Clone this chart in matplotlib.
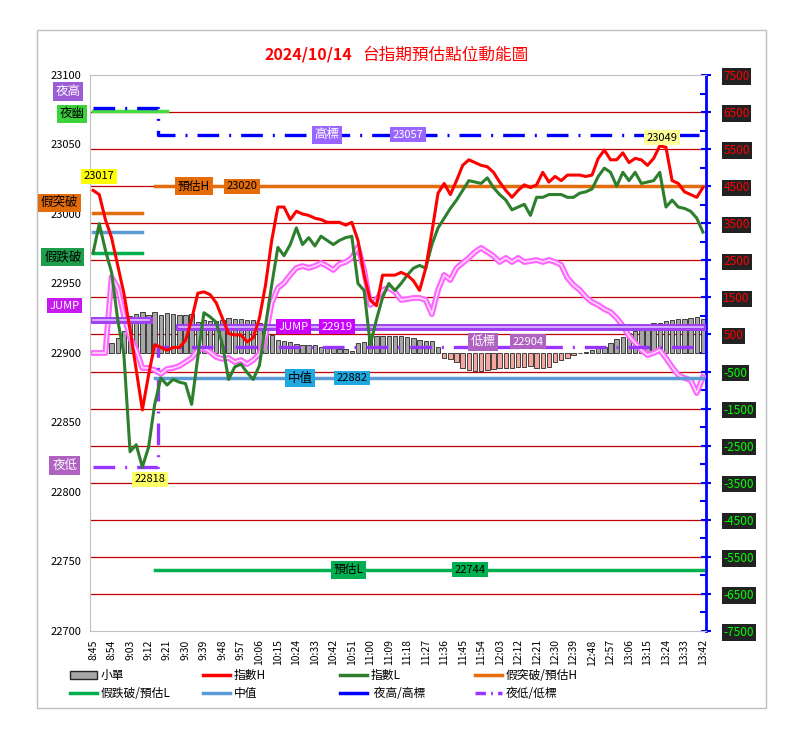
import matplotlib.pyplot as plt
import numpy as np
import pandas as pd
from matplotlib.lines import Line2D
from matplotlib.patches import Patch, Rectangle

plt.rcParams['font.family'] = ['Noto Sans CJK TC', 'DejaVu Sans']

# categories: one point every 3 minutes, 8:45 .. 13:42
times = [t.strftime('%-H:%M') for t in pd.date_range('2024-10-14 08:45', '2024-10-14 13:42', freq='3min')]

# 指數H / 指數L (left axis)
idx_h = [23017, 23014, 22996, 22983, 22963, 22943, 22917, 22888, 22859, 22884,
         22906, 22904, 22902, 22904, 22904, 22909, 22924, 22943, 22944, 22942,
         22936, 22925, 22914, 22913, 22913, 22908, 22911, 22925, 22949, 22981,
         23005, 23005, 22996, 23002, 23000, 22999, 22997, 22996, 22994, 22994,
         22994, 22992, 22994, 22981, 22956, 22938, 22934, 22956, 22956, 22956,
         22958, 22956, 22952, 22945, 22961, 22987, 23015, 23022, 23014, 23024,
         23035, 23039, 23037, 23035, 23034, 23030, 23023, 23017, 23012, 23017,
         23021, 23019, 23021, 23030, 23023, 23027, 23024, 23028, 23028, 23028,
         23027, 23028, 23040, 23046, 23039, 23039, 23044, 23037, 23040, 23039,
         23035, 23040, 23049, 23048, 23024, 23022, 23016, 23014, 23012, 23019]
idx_l = [22972, 22993, 22974, 22958, 22924, 22899, 22829, 22834, 22818, 22832,
         22863, 22882, 22877, 22881, 22879, 22878, 22863, 22897, 22929, 22926,
         22922, 22906, 22881, 22890, 22892, 22886, 22881, 22891, 22920, 22949,
         22976, 22970, 22978, 22990, 22978, 22983, 22977, 22984, 22981, 22978,
         22981, 22983, 22984, 22950, 22945, 22906, 22924, 22940, 22950, 22945,
         22950, 22956, 22961, 22963, 22961, 22978, 22990, 22997, 23004, 23010,
         23017, 23024, 23023, 23022, 23026, 23019, 23014, 23010, 23003, 23005,
         23007, 22999, 23012, 23012, 23014, 23014, 23014, 23012, 23012, 23015,
         23016, 23018, 23027, 23033, 23030, 23020, 23030, 23024, 23030, 23022,
         23023, 23024, 23030, 23005, 23010, 23005, 23004, 23002, 22997, 22987]

# 小單 (right axis)
small = [0, 0, 0, 260, 405, 594, 1000, 1050, 1115, 1025,
         1115, 1025, 1080, 1050, 1025, 1025, 1050, 835, 890, 865,
         865, 890, 945, 918, 918, 890, 890, 810, 620, 485,
         350, 325, 300, 245, 215, 215, 215, 160, 135, 135,
         110, 108, 60, 270, 300, 420, 460, 460, 460, 460,
         460, 440, 405, 350, 325, 325, 170, -140, -165, -240,
         -405, -460, -485, -485, -460, -430, -400, -400, -400, -370,
         -370, -340, -400, -400, -370, -245, -190, -130, -50, -10,
         35, 80, 135, 170, 280, 370, 425, 530, 600, 665,
         710, 800, 800, 870, 890, 910, 910, 935, 980, 910]

# pink momentum line (right axis)
momentum = [0, 0, 0, 2050, 1755, 1025, 405, 80, -405, -405,
            -460, -565, -430, -405, -350, -245, -135, 80, 135, 25,
            -110, -160, -135, -245, -190, -300, -190, -25, 460, 1350,
            1755, 1890, 2105, 2295, 2345, 2295, 2345, 2430, 2345, 2240,
            2400, 2455, 2565, 2860, 2240, 1295, 1430, 1700, 1755, 1645,
            1430, 1455, 1485, 1485, 1430, 1050, 1700, 2105, 1970, 2295,
            2430, 2565, 2725, 2835, 2725, 2615, 2455, 2565, 2455, 2565,
            2455, 2480, 2510, 2455, 2510, 2455, 2375, 2025, 1835, 1700,
            1510, 1375, 1295, 1185, 1105, 945, 730, 460, 270, 80,
            -55, 0, 80, -135, -380, -595, -675, -730, -1080, -650]

# reference levels: (early value, late value)
night_high, high_mark = 23076, 23057
night_low, low_mark = 22818, 22904
night_close = 23074
jump_early, jump_late = 22924, 22919
fake_up, est_h = 23001, 23020
mid_early, mid_late = 22987, 22882
fake_down, est_l = 22972, 22744
# how many points the early segments cover
n_night = 11
n_close = 13
n_fake = 9
n_jump = 10
jump_start = 14

n = len(times)
x = np.arange(n)
nan = np.nan


def two_part(early, late, n_early, start_late):
    return [early] * n_early + [nan] * (start_late - n_early) + [late] * (n - start_late)


high_line = two_part(night_high, high_mark, n_night, n_night)
low_line = two_part(night_low, low_mark, n_night, n_night)
close_line = [night_close] * n_close + [nan] * (n - n_close)
jump_line = two_part(jump_early, jump_late, n_jump, jump_start)
h_line = two_part(fake_up, est_h, n_fake, n_fake + 1)
mid_line = two_part(mid_early, mid_late, n_fake, n_fake + 1)
l_line = two_part(fake_down, est_l, n_fake, n_fake + 1)

fig = plt.figure(figsize=(8, 7.44), dpi=100)
ax = fig.add_axes([90 / 800, 1 - 631 / 744, 616 / 800, 556 / 744])
ax2 = ax.twinx()
ax.set_zorder(2)
ax2.set_zorder(1)
ax.patch.set_visible(False)

# right axis: gridlines, bars, pink line
rticks = np.arange(-7500, 7501, 1000)
for t in rticks[1:-1]:
    ax2.axhline(t, color='#C00000', lw=0.9, zorder=0)
bar_colors = ['#A6A6A6' if v >= 0 else '#F4A7A0' for v in small]
ax2.bar(x, small, width=0.72, color=bar_colors, edgecolor='#262626', lw=0.6, zorder=2)
ax2.plot(x, momentum, color='#FF66FF', lw=4.2, solid_joinstyle='round', zorder=3)
ax2.plot(x, momentum, color='#FFE3FF', lw=1.1, solid_joinstyle='round', zorder=3)
ax2.set_ylim(-7500, 7500)
ax2.set_yticks(rticks)
ax2.set_yticks(np.arange(-7000, 7001, 1000), minor=True)
ax2.set_yticklabels([str(t) for t in rticks])
ax2.tick_params(axis='y', which='major', direction='inout', length=7, width=1.5,
                color='#0000FF', pad=9, labelsize=8.5)
ax2.tick_params(axis='y', which='minor', direction='in', length=4, width=1.5, color='#0000FF')
for lbl, t in zip(ax2.get_yticklabels(), rticks):
    lbl.set_color('#FF0000' if t > 0 else '#00FF00')
    lbl.set_bbox(dict(facecolor='#222222', edgecolor='none', pad=1.2))
for s in ['left', 'top', 'bottom']:
    ax2.spines[s].set_visible(False)
ax2.spines['right'].set_color('#0000FF')
ax2.spines['right'].set_linewidth(2)

# left axis: levels and index lines
ax.plot(x, close_line, color='#44DD44', lw=2.5, zorder=2)
ax.plot(x, high_line, color='#0000FF', lw=2.4, dashes=(6.5, 3, 0.6, 3), drawstyle='steps-mid', zorder=3)
ax.plot(x, low_line, color='#9933FF', lw=2.4, dashes=(6.5, 3, 0.6, 3), drawstyle='steps-mid', zorder=3)
ax.plot(x, jump_line, color='#A040F0', lw=5, zorder=2)
ax.plot(x, jump_line, color='#E0C0FF', lw=1.2, zorder=2)
ax.plot(x, h_line, color='#E46C0A', lw=2.5, zorder=3)
ax.plot(x, mid_line, color='#5B9BD5', lw=2.5, zorder=3)
ax.plot(x, l_line, color='#00B050', lw=2.5, zorder=3)
ax.plot(x, idx_l, color='#2D7F2D', lw=2.2, zorder=4)
ax.plot(x, idx_h, color='#FF0000', lw=2.2, zorder=5)

ax.set_xlim(-0.5, n - 0.5)
ax.set_ylim(22700, 23100)
ax.set_yticks(np.arange(22700, 23101, 50))
ax.tick_params(axis='y', length=0, pad=6, labelsize=8)
ax.set_xticks(x[::3])
ax.set_xticklabels(times[::3], rotation=90, fontsize=7.5)
ax.tick_params(axis='x', length=0, pad=6)
for s in ['left', 'top', 'bottom']:
    ax.spines[s].set_color('#BFBFBF')
ax.spines['right'].set_visible(False)


def tag(xv, yv, s, fc, tc='black', fs=8.5):
    ax.text(xv, yv, s, ha='center', va='center', fontsize=fs, color=tc, zorder=10, clip_on=False,
            bbox=dict(boxstyle='square,pad=0.22', fc=fc, ec='none'))


tag(-4.1, 23088, '夜高', '#9B5CD6', 'white', 9)
tag(-3.4, 23072, '夜幽', '#3CD23C', 'black', 9)
tag(1.0, 23027, str(idx_h[0]), '#FFFF00', 'black', 8)
tag(-5.4, 23008, '假突破', '#E46C0A', 'black', 9)
tag(-4.9, 22969, '假跌破', '#1E9E4A', 'black', 9)
tag(-4.6, 22934, 'JUMP', '#C61AF0', 'white', 8)
tag(-4.6, 22819, '夜低', '#B062C0', 'white', 9)
tag(9.3, 22809, str(min(idx_l)), '#FFFF66', 'black', 8)
tag(92.4, 23055, str(max(idx_h)), '#FFFF99', 'black', 8)
tag(38.0, high_mark, '高標', '#9966FF', 'white', 9)
tag(51.1, high_mark, str(high_mark), '#9966FF', 'white', 8)
tag(16.4, est_h, '預估H', '#E46C0A', 'black', 8.5)
tag(24.2, est_h, str(est_h), '#E46C0A', 'black', 8)
tag(32.5, jump_late, 'JUMP', '#CC00FF', 'white', 8)
tag(39.6, jump_late, str(jump_late), '#CC00FF', 'white', 8)
tag(63.3, 22908, '低標', '#B062C0', 'white', 9)
tag(70.6, 22908, str(low_mark), '#B062C0', 'white', 8)
tag(33.6, mid_late, '中值', '#1FA8E0', 'black', 9)
tag(42.0, mid_late, str(mid_late), '#1FA8E0', 'black', 8)
tag(41.4, est_l, '預估L', '#00B050', 'black', 8.5)
tag(61.2, est_l, str(est_l), '#00B050', 'black', 8)

# title
fig.text(352 / 800, 1 - 55 / 744, '2024/10/14', ha='right', va='center', color='#FF0000',
         fontsize=11.5, fontweight='bold')
fig.text(362 / 800, 1 - 55 / 744, '台指期預估點位動能圖', ha='left', va='center', color='#FF0000',
         fontsize=12)

# legend, one block per column
cols = [
    [(Patch(facecolor='#A6A6A6', edgecolor='#262626'), '小單'),
     (Line2D([], [], color='#00B050', lw=2.5), '假跌破/預估L')],
    [(Line2D([], [], color='#FF0000', lw=2.5), '指數H'),
     (Line2D([], [], color='#5B9BD5', lw=2.5), '中值')],
    [(Line2D([], [], color='#2D7F2D', lw=2.5), '指數L'),
     (Line2D([], [], color='#0000FF', lw=2.5), ' 夜高/高標')],
    [(Line2D([], [], color='#E46C0A', lw=2.5), '假突破/預估H'),
     (Line2D([], [], color='#9933FF', lw=2.5, dashes=(3, 1.5, 0.5, 1.5)), '夜低/低標')],
]
for cx, col in zip([70, 203, 340, 475], cols):
    fig.legend([h for h, _ in col], [l for _, l in col], loc='upper left',
               bbox_to_anchor=(cx / 800, 1 - 669 / 744), frameon=False, fontsize=8.5,
               handlelength=2.3, handletextpad=0.3, borderpad=0, borderaxespad=0,
               labelspacing=0.45)

fig.patches.append(Rectangle((37 / 800, 1 - 708 / 744), 729 / 800, 678 / 744,
                             transform=fig.transFigure, fill=False, ec='#BFBFBF', lw=1))

fig.savefig('out.png', dpi=100)
